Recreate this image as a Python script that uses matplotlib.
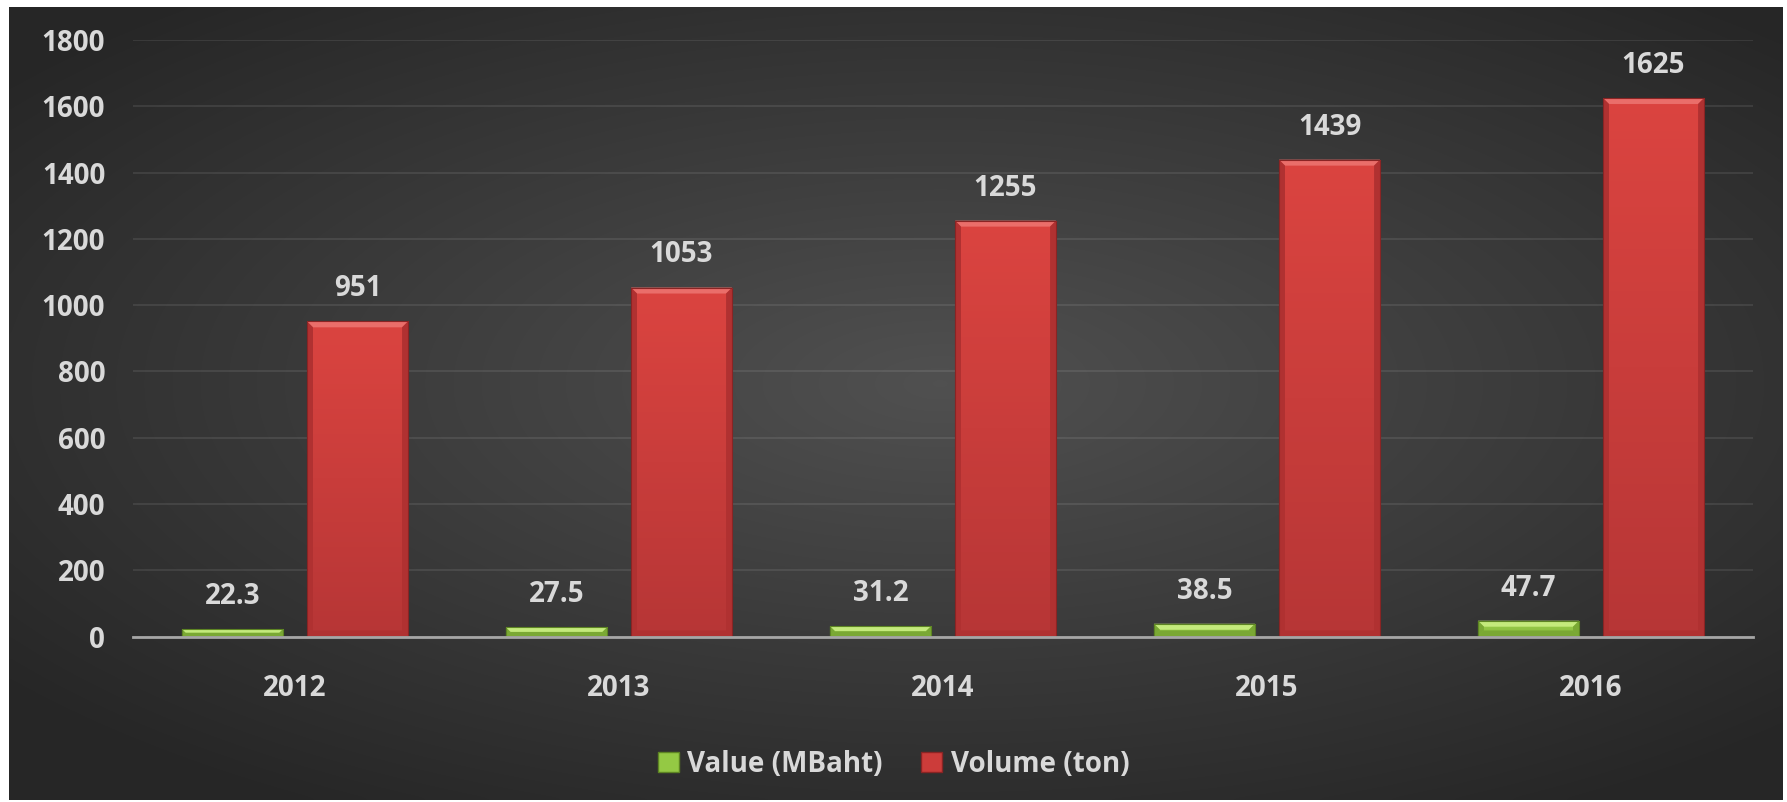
import numpy as np
import matplotlib

matplotlib.use("Agg")
import matplotlib.pyplot as plt
from matplotlib.patches import Patch, Polygon

years = ["2012", "2013", "2014", "2015", "2016"]
value_mbaht = [22.3, 27.5, 31.2, 38.5, 47.7]
volume_ton = [951, 1053, 1255, 1439, 1625]
value_labels = ["22.3", "27.5", "31.2", "38.5", "47.7"]
volume_labels = ["951", "1053", "1255", "1439", "1625"]
yticks = [0, 200, 400, 600, 800, 1000, 1200, 1400, 1600, 1800]

TXT = "#d9d9d9"
FONT = "Open Sans"
FS = 20
W, H = 1787, 802

fig = plt.figure(figsize=(W / 100, H / 100), dpi=100, facecolor="white")

# dark radial background
bg = fig.add_axes([9 / W, 2 / H, 1774 / W, 793 / H])
gx, gy = np.meshgrid(np.linspace(-1, 1, 400), np.linspace(-1, 1, 200))
r = np.sqrt(((gx - 0.05) * 0.95) ** 2 + ((gy + 0.05) * 1.0) ** 2)
shade = np.clip(0.315 - 0.13 * r, 0.15, 0.33)
bg.imshow(np.dstack([shade] * 3), aspect="auto", extent=[0, 1, 0, 1],
          interpolation="bicubic")
bg.set_axis_off()

ax = fig.add_axes([133 / W, (H - 636.5) / H, 1620 / W, 596.5 / H])
ax.set_facecolor("none")
x = np.arange(len(years))
bw = 0.312
off = 0.193


def shaded_bars(xs, vals, top, bottom, light, dark, edge):
    bars = ax.bar(xs, vals, bw, color="none", edgecolor="none", zorder=3)
    grad = np.linspace(0, 1, 64).reshape(-1, 1)
    cmap = matplotlib.colors.LinearSegmentedColormap.from_list("g", [bottom, top])
    for b in bars:
        x0, y0, w, h = b.get_x(), b.get_y(), b.get_width(), b.get_height()
        im = ax.imshow(grad, cmap=cmap, aspect="auto", origin="lower",
                       extent=[x0, x0 + w, y0, y0 + h], zorder=3)
        im.set_clip_path(b)
        # bevel, a few px wide, computed in display space
        t = ax.transData
        (px0, py0), (px1, py1) = t.transform([(x0, y0), (x0 + w, y0 + h)])
        bv = min(6, (py1 - py0) / 2)
        inv = t.inverted()

        def poly(pts, c):
            ax.add_patch(Polygon(inv.transform(pts), closed=True, facecolor=c,
                                 edgecolor="none", zorder=4))
        poly([(px0, py1), (px1, py1), (px1 - bv, py1 - bv), (px0 + bv, py1 - bv)], light)
        poly([(px0, py0), (px0 + bv, py0 + bv), (px0 + bv, py1 - bv), (px0, py1)], dark)
        poly([(px1, py0), (px1 - bv, py0 + bv), (px1 - bv, py1 - bv), (px1, py1)], dark)
        poly([(px0, py0), (px1, py0), (px1 - bv, py0 + bv), (px0 + bv, py0 + bv)], dark)
        ax.add_patch(matplotlib.patches.Rectangle((x0, y0), w, h, fill=False,
                                                  edgecolor=edge, lw=0.8, zorder=5))
    return bars


ax.set_xlim(-0.5, len(years) - 0.5)
ax.set_ylim(0, 1800)

gb = shaded_bars(x - off, value_mbaht, "#9fd34e", "#86b83c", "#c4ea7c", "#7aa834", "#5d8423")
rb = shaded_bars(x + off, volume_ton, "#db4440", "#b73636", "#ea6e6a", "#b03131", "#8a2424")

for b, lab in zip(list(gb) + list(rb), value_labels + volume_labels):
    ax.annotate(lab, (b.get_x() + b.get_width() / 2, b.get_height()),
                xytext=(0, 13), textcoords="offset points", ha="center",
                va="bottom", color=TXT, fontsize=FS, fontweight="bold",
                family=FONT, zorder=6)

ax.set_yticks(yticks)
ax.set_xticks(x)
ax.set_xticklabels(years)
ax.grid(axis="y", color="#ffffff", alpha=0.1, lw=1.2, zorder=0)
ax.set_axisbelow(True)
for s in ["top", "right", "left"]:
    ax.spines[s].set_visible(False)
ax.spines["bottom"].set_color("#a6a6a6")
ax.spines["bottom"].set_linewidth(2)
ax.spines["bottom"].set_zorder(6)
ax.tick_params(axis="y", length=0, pad=20, labelsize=FS, labelcolor=TXT)
ax.tick_params(axis="x", length=0, pad=27, labelsize=FS, labelcolor=TXT)
for t in ax.get_xticklabels() + ax.get_yticklabels():
    t.set_fontweight("bold")
    t.set_family(FONT)

handles = [Patch(facecolor="#94c944", edgecolor="#5d8423", label="Value (MBaht)"),
           Patch(facecolor="#cc3c3a", edgecolor="#8a2424", label="Volume (ton)")]
leg = fig.legend(handles=handles, loc="center", bbox_to_anchor=(0.5, 1 - 764 / H),
                 ncol=2, frameon=False, handlelength=0.75, handleheight=0.75,
                 handletextpad=0.3, columnspacing=1.4,
                 prop={"family": FONT, "weight": "bold", "size": FS})
for t in leg.get_texts():
    t.set_color(TXT)

fig.savefig("out.png", dpi=100, facecolor="white")
